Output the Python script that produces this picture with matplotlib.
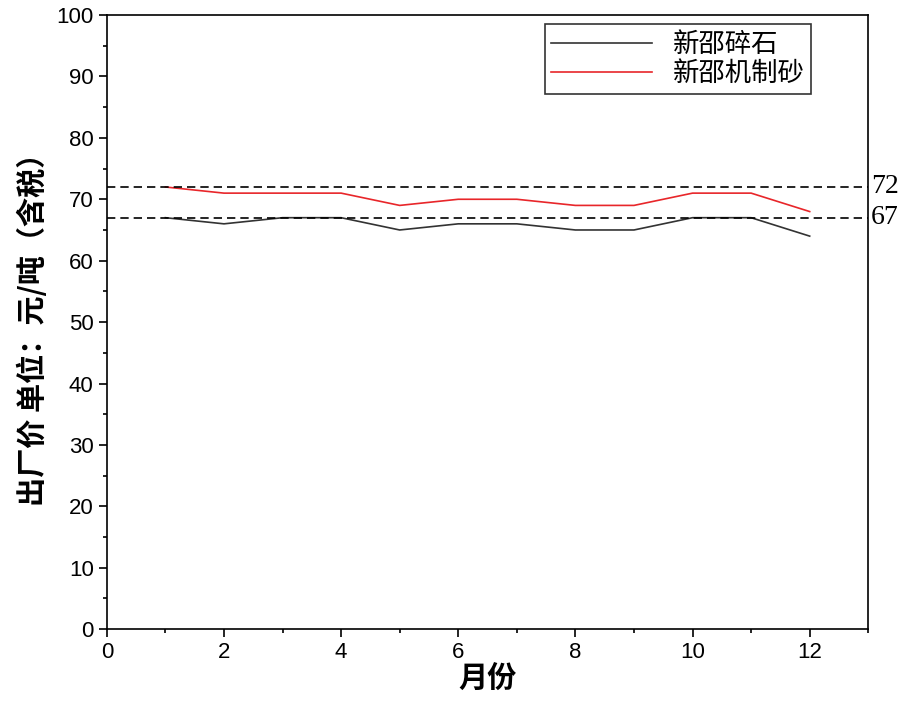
import matplotlib
matplotlib.use("Agg")
import matplotlib.pyplot as plt
from matplotlib.ticker import MultipleLocator

plt.rcParams['font.family'] = ['Liberation Sans', 'Noto Sans CJK SC', 'DejaVu Sans']

months = [1, 2, 3, 4, 5, 6, 7, 8, 9, 10, 11, 12]
gravel = [67, 66, 67, 67, 65, 66, 66, 65, 65, 67, 67, 64]
sand = [72, 71, 71, 71, 69, 70, 70, 69, 69, 71, 71, 68]
ref_lines = [72, 67]

fig, ax = plt.subplots(figsize=(9.13, 7.15), dpi=100)
fig.subplots_adjust(left=0.117, right=0.951, top=0.979, bottom=0.12)

ax.plot(months, gravel, color='#333333', lw=1.2, label='新邵碎石')
ax.plot(months, sand, color='#e8262a', lw=1.2, label='新邵机制砂')
for v in ref_lines:
    ax.axhline(v, color='black', ls=(0, (5, 3)), lw=1.2)
    ax.text(13.05, v, str(v), fontsize=20, va='center', ha='left',
            family=['Liberation Serif'])

ax.set_xlim(0, 13)
ax.set_ylim(0, 100)
ax.xaxis.set_major_locator(MultipleLocator(2))
ax.xaxis.set_minor_locator(MultipleLocator(1))
ax.yaxis.set_major_locator(MultipleLocator(10))
ax.yaxis.set_minor_locator(MultipleLocator(5))
ax.tick_params(which='major', direction='out', length=6, width=1.2, labelsize=16)
ax.tick_params(which='minor', direction='out', length=3, width=1.2)
for s in ax.spines.values():
    s.set_linewidth(1.2)

ax.set_xlabel('月份', fontsize=21, fontweight='bold',
              family=['Noto Sans CJK SC'], labelpad=0)
ax.set_ylabel('出厂价 单位：元/吨（含税）', fontsize=21, fontweight='bold',
              family=['Noto Sans CJK SC'], labelpad=6)

leg = ax.legend(loc='upper right', bbox_to_anchor=(0.925, 0.985), fancybox=False,
                edgecolor='black', prop={'family': 'Noto Sans CJK SC', 'size': 19},
                handlelength=3.8, borderpad=0.25, labelspacing=0.1,
                borderaxespad=0)
leg.get_frame().set_linewidth(1.2)

fig.savefig('out.png', dpi=100)
